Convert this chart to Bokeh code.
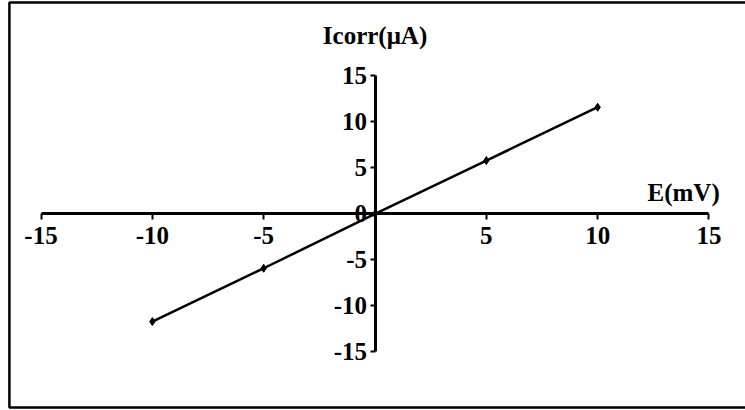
from bokeh.plotting import figure
from bokeh.models import BoxAnnotation, Label, FixedTicker
from bokeh.embed import file_html
from bokeh.resources import INLINE

# Corrosion current versus applied potential
potential_mv = [-10, -5, 0, 5, 10]
current_ua = [-11.7, -5.9, 0, 5.8, 11.6]

x_ticks = [-15, -10, -5, 5, 10, 15]
x_tick_labels = ["-15", "-10", "-5", "5", "10", "15"]
y_ticks = [-15, -10, -5, 0, 5, 10, 15]
y_tick_labels = ["-15", "-10", "-5", "0", "5", "10", "15"]

x_title = "E(mV)"
y_title = "Icorr(μA)"

FONT = "Liberation Serif"

p = figure(
    width=745, height=410,
    x_range=(-16.82, 16.64), y_range=(-21.36, 23.2),
    output_backend="svg", toolbar_location=None,
    min_border=0,
)
p.outline_line_color = None
p.grid.visible = False
p.background_fill_color = "white"
p.border_fill_color = "white"

# axes crossing at the origin
p.xaxis.fixed_location = 0
p.yaxis.fixed_location = 0
p.xaxis.bounds = (-15, 15)
p.yaxis.bounds = (-15, 15)
p.xaxis.ticker = FixedTicker(ticks=x_ticks)
p.yaxis.ticker = FixedTicker(ticks=y_ticks)
# plain hyphen for negative numbers
p.xaxis.major_label_overrides = {t: s for t, s in zip(x_ticks, x_tick_labels)}
p.yaxis.major_label_overrides = {t: s for t, s in zip(y_ticks, y_tick_labels)}

for ax in (p.xaxis, p.yaxis):
    ax.axis_line_color = "black"
    ax.axis_line_width = 3
    ax.major_tick_line_color = "black"
    ax.major_tick_line_width = 2
    ax.minor_tick_line_color = None
    ax.major_label_text_font = FONT
    ax.major_label_text_font_style = "bold"
    ax.major_label_text_font_size = "25px"
    ax.major_label_text_color = "black"

p.xaxis.major_tick_in = 0
p.xaxis.major_tick_out = 6
p.xaxis.major_label_standoff = 7
p.yaxis.major_tick_in = 0
p.yaxis.major_tick_out = 5
p.yaxis.major_label_standoff = 3

# frame around the chart
p.add_layout(BoxAnnotation(left=-16.42, right=30, bottom=-21.03, top=22.99,
                           fill_color=None, fill_alpha=0,
                           line_color="black", line_alpha=1, line_width=2.5))

p.line(potential_mv, current_ua, line_color="black", line_width=2.5)
p.scatter(potential_mv, current_ua, marker="diamond", size=8, color="black")

p.add_layout(Label(x=0, y=19.4, text=y_title, text_align="center",
                   text_baseline="middle", text_font=FONT, text_color="black",
                   text_font_style="bold", text_font_size="25px"))
p.add_layout(Label(x=13.86, y=2.34, text=x_title, text_align="center",
                   text_baseline="middle", text_font=FONT, text_color="black",
                   text_font_style="bold", text_font_size="25px"))

open("out.html", "w").write(file_html(p, INLINE))
